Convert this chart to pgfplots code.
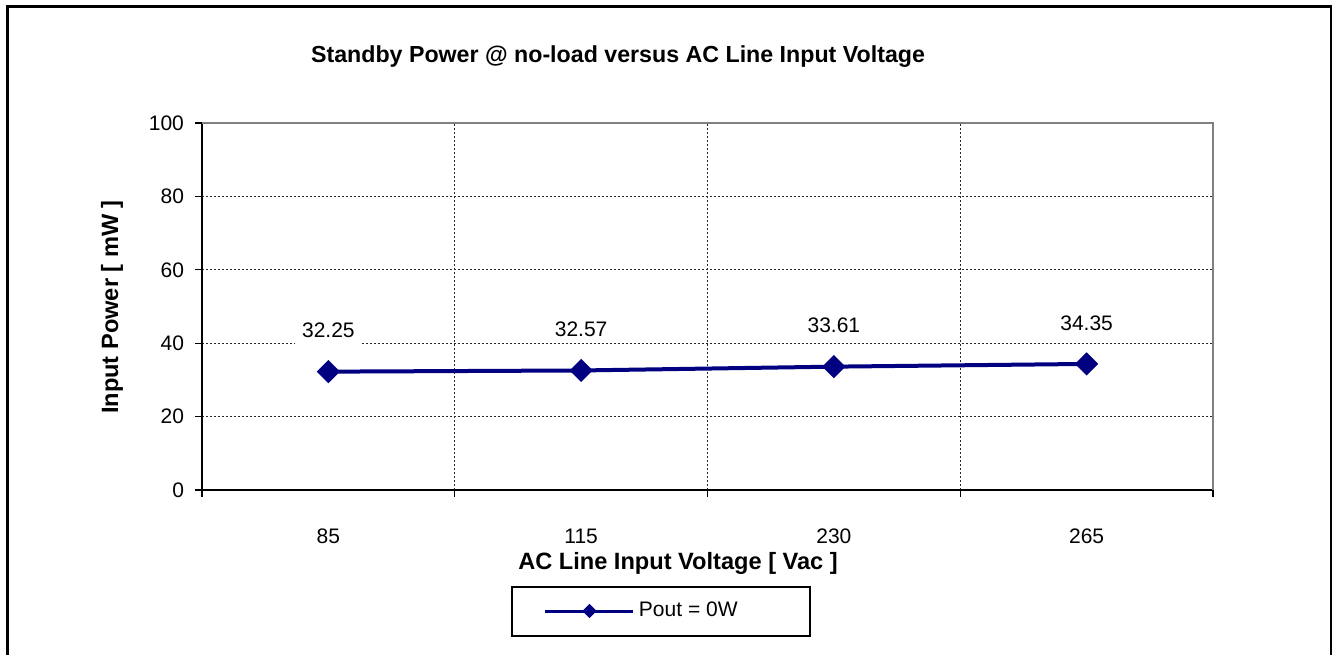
\documentclass[border=0pt]{standalone}
\usepackage{fontspec}
\setmainfont{Liberation Sans}
\usepackage{pgfplots}
\pgfplotsset{compat=1.18}
\definecolor{navyline}{RGB}{0,0,128}
\definecolor{gridc}{RGB}{40,40,40}
\begin{document}
\begin{tikzpicture}[x=0.5pt,y=0.5pt]
\useasboundingbox (0,0) rectangle (1332,654);
\draw[line width=1.5pt] (7,-5) -- (7,647) -- (1331,647) -- (1331,-5);
\begin{axis}[
  at={(101pt,82pt)}, anchor=south west,
  scale only axis, width=505.5pt, height=183.5pt,
  xmin=-0.5, xmax=3.5, ymin=0, ymax=100,
  axis lines=left, axis line style={-, line width=0.8pt},
  xtick={0,1,2,3}, xticklabels={85,115,230,265},
  minor xtick={-0.5,0.5,1.5,2.5,3.5},
  ytick={0,20,40,60,80,100},
  major x tick style={draw=none},
  tick align=outside, major tick length=3.5pt, minor tick length=3.5pt,
  tick style={black, line width=0.6pt},
  ymajorgrids, xminorgrids,
  major grid style={gridc, line width=0.5pt, dash pattern=on 1.2pt off 0.8pt},
  minor grid style={gridc, line width=0.5pt, dash pattern=on 1.2pt off 0.8pt},
  /pgf/number format/assume math mode=true,
  tick label style={font=\fontsize{10.5}{12}\selectfont},
  xticklabel style={yshift=-12.5pt},
  yticklabel style={xshift=-2pt},
  clip=false,
  legend style={draw=none, fill=none, at={(axis description cs:0.436,-0.3297)}, anchor=center, font=\fontsize{10.5}{12}\selectfont},
  legend image code/.code={\draw[mark repeat=2,mark phase=2,#1,mark size=1.8pt,line width=1.5pt] plot coordinates {(0pt,0pt) (22pt,0pt) (44pt,0pt)};},
]
\addplot[navyline, line width=2pt, mark=square*, mark size=3.1pt, mark options={rotate=45, solid},
  nodes near coords={\pgfmathprintnumber[fixed,precision=2,zerofill]{\pgfplotspointmeta}},
  every node near coord/.style={anchor=center, yshift=20.5pt, fill=white, inner xsep=3.5pt, inner ysep=3pt, text=black, font=\fontsize{10.5}{12}\selectfont}]
  coordinates {(0,32.25) (1,32.57) (2,33.61) (3,34.35)};
\addlegendentry{Pout = 0W}
\draw[gray, line width=0.8pt] (rel axis cs:0,1) -- (rel axis cs:1,1) -- (rel axis cs:1,0);
\end{axis}
\draw[line width=0.6pt] (512,18) rectangle (810,67);
\node[font=\bfseries\fontsize{11.6}{13}\selectfont] at (618,597) {Standby Power @ no-load versus AC Line Input Voltage};
\node[font=\bfseries\fontsize{11.8}{13}\selectfont, rotate=90] at (112,347) {Input Power [ mW ]};
\node[font=\bfseries\fontsize{11.8}{13}\selectfont] at (678,91) {AC Line Input Voltage [ Vac ]};
\end{tikzpicture}
\end{document}
